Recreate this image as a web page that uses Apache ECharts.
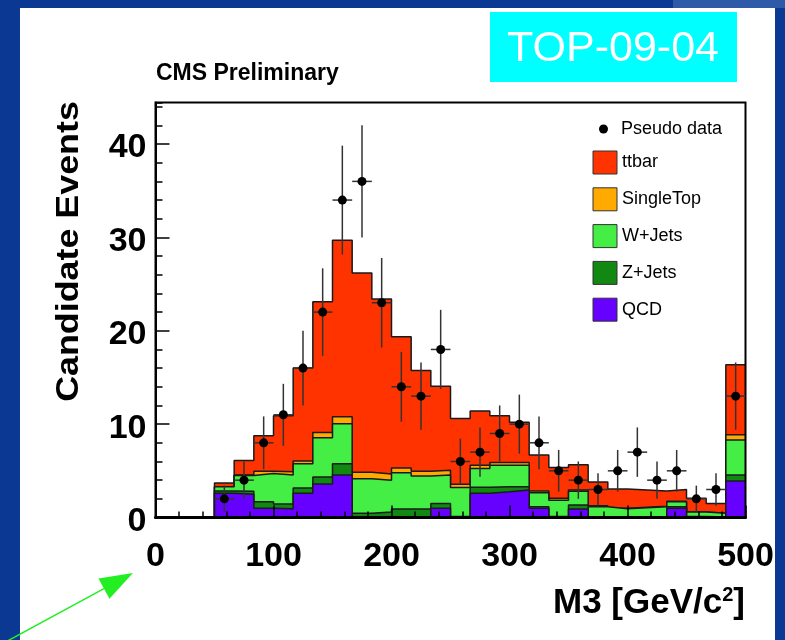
<!DOCTYPE html>
<html>
<head>
<meta charset="utf-8">
<title>M3 distribution</title>
<script src="https://cdn.jsdelivr.net/npm/echarts@6.0.0/dist/echarts.min.js"></script>
<style>
  html, body { margin: 0; padding: 0; width: 785px; height: 640px; overflow: hidden; background: #0a3893; }
  #corner { position: absolute; left: 673px; top: 0; width: 112px; height: 8px; background: #2f5aa8; }
  #panel { position: absolute; left: 20px; top: 8px; width: 755px; height: 632px; background: #ffffff; }
  #chart { position: absolute; left: 0; top: 0; width: 785px; height: 640px; }
</style>
</head>
<body>
<div id="corner"></div>
<div id="panel"></div>
<div id="chart"></div>
<script>
// Histogram binning: 30 bins between 0 and 500 GeV/c^2
const xMin = 0;
const xMax = 500;
const nBins = 30;
const yMax = 44.45;

// Expected events per bin for each process
const qcd       = [0, 0, 0, 2.6, 2.5, 1.0, 0.95, 2.6, 3.6, 4.55, 0, 0, 0, 0, 1.0, 0, 2.6, 2.75, 2.95, 1.0, 0, 0.9, 0, 0, 0, 0, 1.0, 0, 0, 3.9];
const zJets     = [0, 0, 0, 0.25, 0.3, 0.7, 0.5, 0.55, 0.75, 1.2, 0.45, 0.6, 0.9, 0.9, 0.5, 0.1, 0.65, 0.55, 0.35, 0.15, 0.1, 0.45, 0.05, 0.05, 0.05, 0.05, 0.15, 0.1, 0.05, 0.65];
const wJets     = [0, 0, 0, 0.45, 1.7, 3.0, 3.1, 2.6, 4.2, 4.3, 3.7, 3.4, 3.9, 3.55, 3.05, 3.1, 2.0, 2.3, 2.3, 1.5, 1.75, 1.45, 1.1, 0.9, 1.0, 1.1, 0.55, 0.5, 0.4, 3.75];
const singleTop = [0, 0, 0, 0, 0.05, 0.25, 0.35, 0.3, 0.55, 0.75, 0.7, 0.65, 0.5, 0.5, 0.5, 0.35, 0.35, 0.3, 0.3, 0.2, 0.2, 0.15, 0.1, 0.05, 0.05, 0.05, 0.05, 0, 0, 0.55];
const ttbar     = [0, 0, 0, 0.4, 1.55, 3.8, 6.0, 9.95, 14.0, 18.9, 21.35, 18.75, 14.05, 10.8, 9.0, 7.05, 5.8, 5.0, 4.3, 3.85, 3.3, 2.7, 2.55, 2.05, 1.85, 1.65, 1.25, 1.45, 1.05, 7.5];

// Pseudo data counts per bin
const pseudoData = [0, 0, 0, 2, 4, 8, 11, 16, 22, 34, 36, 23, 14, 13, 18, 6, 7, 9, 10, 8, 5, 4, 3, 5, 7, 4, 5, 2, 3, 13];

// Axis tick values
const xTicks = [0, 100, 200, 300, 400, 500];
const yTicks = [0, 10, 20, 30, 40];

const FONT = '"Liberation Sans", Arial, Helvetica, sans-serif';
const binW = (xMax - xMin) / nBins;

// Stack order, bottom to top
const layers = [
  { name: 'QCD', values: qcd, color: '#6600ff' },
  { name: 'Z+Jets', values: zJets, color: '#118811' },
  { name: 'W+Jets', values: wJets, color: '#44ee44' },
  { name: 'SingleTop', values: singleTop, color: '#ffaa00' },
  { name: 'ttbar', values: ttbar, color: '#ff3300' }
];
const running = new Array(nBins).fill(0);
layers.forEach(l => {
  l.values.forEach((v, i) => { running[i] += v; });
  l.top = running.slice();
});

// Each cumulative layer is a step outline filled down to zero; the highest
// cumulative sum is painted first so the lower layers sit on top of it.
const stackSeries = layers.slice().reverse().map((l, k) => {
  const pts = l.top.map((v, i) => [xMin + i * binW, v]);
  pts.push([xMax, l.top[nBins - 1]]);
  return {
    type: 'line',
    name: l.name,
    step: 'end',
    symbol: 'none',
    showSymbol: false,
    silent: true,
    z: 3 + k,
    data: pts,
    itemStyle: { color: l.color },
    lineStyle: { color: '#1a1a1a', width: 1.5 },
    areaStyle: { color: l.color, opacity: 1 }
  };
});

const dataSeries = {
  type: 'custom',
  name: 'Pseudo data',
  z: 20,
  silent: true,
  itemStyle: { color: '#000' },
  encode: { x: 0, y: 1 },
  data: pseudoData
    .map((n, i) => [xMin + (i + 0.5) * binW, n, Math.sqrt(n)])
    .filter(d => d[1] > 0),
  renderItem: (params, api) => {
    const x = api.value(0), n = api.value(1), e = api.value(2);
    const c = api.coord([x, n]);
    const hi = api.coord([x, n + e]);
    const lo = api.coord([x, n - e]);
    const l = api.coord([x - binW / 2, n]);
    const r = api.coord([x + binW / 2, n]);
    const bar = { stroke: '#333', lineWidth: 1.5 };
    return {
      type: 'group',
      children: [
        { type: 'line', shape: { x1: c[0], y1: hi[1], x2: c[0], y2: lo[1] }, style: bar },
        { type: 'line', shape: { x1: l[0], y1: c[1], x2: r[0], y2: c[1] }, style: bar },
        { type: 'circle', shape: { cx: c[0], cy: c[1], r: 4.5 }, style: { fill: '#000' } }
      ]
    };
  }
};

// Arrow geometry in the lower-left corner
const arrowTail = [0, 645], arrowTip = [133, 573];
const adx = arrowTip[0] - arrowTail[0], ady = arrowTip[1] - arrowTail[1];
const alen = Math.hypot(adx, ady);
const ux = adx / alen, uy = ady / alen;
const headLen = 33, headHalf = 11.5;
const baseC = [arrowTip[0] - headLen * ux, arrowTip[1] - headLen * uy];

const chart = echarts.init(document.getElementById('chart'), null, { renderer: 'canvas' });
chart.setOption({
  animation: false,
  backgroundColor: 'transparent',
  textStyle: { fontFamily: FONT },
  grid: {
    left: 155.5, top: 102.5, right: 39.5, bottom: 122.5,
    show: true, borderColor: '#000', borderWidth: 2,
    backgroundColor: 'transparent', z: 10,
    containLabel: false, outerBoundsMode: 'none'
  },
  xAxis: {
    type: 'value', min: xMin, max: xMax, interval: 100, z: 10,
    axisLine: { show: true, onZero: false, lineStyle: { color: '#000', width: 3 } },
    axisTick: { show: true, inside: true, length: 12, lineStyle: { color: '#000', width: 1.5 } },
    minorTick: { show: true, splitNumber: 5, length: 6, lineStyle: { color: '#000', width: 1.5 } },
    splitLine: { show: false },
    axisLabel: {
      color: '#000', fontSize: 34, fontWeight: 'bold', fontFamily: FONT, margin: 22,
      formatter: v => (xTicks.includes(v) ? String(v) : '')
    }
  },
  yAxis: [
    {
      type: 'value', min: 0, max: yMax, interval: 10, z: 10,
      axisLine: { show: true, onZero: false, lineStyle: { color: '#000', width: 2 } },
      axisTick: { show: true, inside: true, length: 14, lineStyle: { color: '#000', width: 1.5 } },
      splitLine: { show: false },
      axisLabel: {
        color: '#000', fontSize: 34, fontWeight: 'bold', fontFamily: FONT, margin: 9,
        verticalAlign: 'top', lineHeight: 8,
        showMaxLabel: false,
        formatter: v => (yTicks.includes(v) ? String(v) : '')
      }
    },
    {
      type: 'value', min: 0, max: yMax, interval: 2, position: 'left', z: 10,
      axisLine: { show: false },
      axisTick: { show: true, inside: true, length: 7, lineStyle: { color: '#000', width: 1.5 } },
      splitLine: { show: false },
      axisLabel: { show: false }
    }
  ],
  legend: [
    {
      left: 599, top: 120, padding: 0, selectedMode: false,
      itemWidth: 9, itemHeight: 9,
      textStyle: { color: '#000', fontSize: 18, fontFamily: FONT, padding: [0, 0, 0, 8] },
      data: [{ name: 'Pseudo data', icon: 'circle', itemStyle: { color: '#000' } }]
    },
    {
      left: 592.5, top: 150.5, padding: 0, selectedMode: false, orient: 'vertical',
      itemWidth: 24, itemHeight: 23, itemGap: 12.8,
      itemStyle: { borderColor: '#333', borderWidth: 1 },
      textStyle: { color: '#000', fontSize: 18, fontFamily: FONT },
      data: layers.slice().reverse().map(l => ({ name: l.name, icon: 'rect', itemStyle: { color: l.color, borderColor: '#333', borderWidth: 1 } }))
    }
  ],
  graphic: [
    { type: 'rect', shape: { x: 490, y: 12, width: 247, height: 70 }, style: { fill: '#00ffff' }, z: 1 },
    { type: 'text', x: 613, y: 49, z: 2,
      style: { text: 'TOP-09-04', fill: '#ffffff', font: '43px ' + FONT, textAlign: 'center', textVerticalAlign: 'middle' } },
    { type: 'text', x: 156, y: 73.5, z: 2,
      style: { text: 'CMS Preliminary', fill: '#000', font: 'bold 23px ' + FONT, textAlign: 'left', textVerticalAlign: 'middle' } },
    { type: 'text', x: 69, y: 251.5, rotation: Math.PI / 2, scaleX: 1.12, z: 2,
      style: { text: 'Candidate Events', fill: '#000', font: 'bold 32px ' + FONT, textAlign: 'center', textVerticalAlign: 'middle' } },
    { type: 'text', x: 745, y: 603, z: 2,
      style: {
        text: '{a|M3 [GeV/c}{s|2}{a|]}', textAlign: 'right', textVerticalAlign: 'middle',
        rich: {
          a: { fontSize: 35, fontWeight: 'bold', fontFamily: FONT, fill: '#000', color: '#000' },
          s: { fontSize: 20, fontWeight: 'bold', fontFamily: FONT, fill: '#000', color: '#000', verticalAlign: 'top' }
        }
      } },
    { type: 'line', z: 30, shape: { x1: arrowTail[0], y1: arrowTail[1], x2: baseC[0], y2: baseC[1] },
      style: { stroke: '#22ee22', lineWidth: 1.5 } },
    { type: 'polygon', z: 30,
      shape: { points: [
        arrowTip,
        [baseC[0] + headHalf * -uy, baseC[1] + headHalf * ux],
        [baseC[0] - headHalf * -uy, baseC[1] - headHalf * ux]
      ] },
      style: { fill: '#22ee22' } }
  ],
  series: [...stackSeries, dataSeries]
});
</script>
</body>
</html>
